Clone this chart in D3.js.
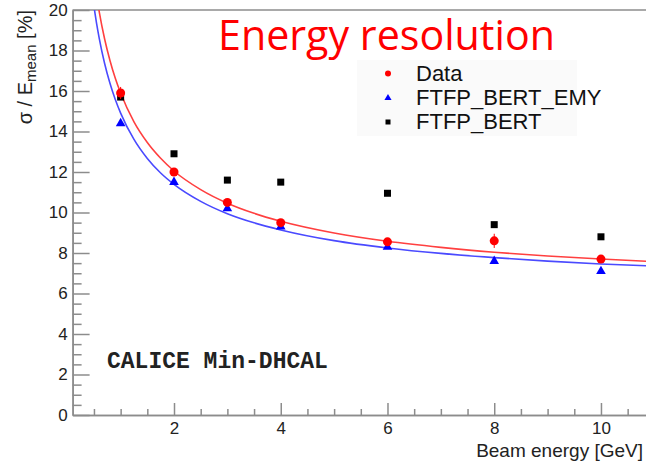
<!DOCTYPE html>
<html lang="en">
<head>
  <meta charset="UTF-8">
  <title>Energy resolution</title>
  <script src="https://cdn.jsdelivr.net/npm/d3@7"></script>
  <style>
    body {
      margin: 0;
      background: #fff;
      overflow: hidden;
    }

    #canvas {
      width: 646px;
      height: 467px;
      font-family: "Liberation Sans", Arial, sans-serif;
    }

    .axis path, .axis line {
      stroke: #8c8c8c;
      stroke-width: 1.5;
    }

    .axis text {
      font-family: "Liberation Sans", Arial, sans-serif;
      font-size: 17px;
      fill: #222;
    }
  </style>
</head>
<body>
<svg id="canvas" width="646" height="467"></svg>
<script>
  // beam energies [GeV]
  let energies = [1, 2, 3, 4, 6, 8, 10];
  // sigma / E_mean [%]
  let dataValues = [15.9, 12.0, 10.5, 9.5, 8.55, 8.6, 7.7];
  let dataErrors = [0.3, 0.15, 0.1, 0.1, 0.1, 0.35, 0.1];
  let emyValues = [14.4, 11.5, 10.2, 9.3, 8.3, 7.6, 7.1];
  let bertValues = [15.7, 12.9, 11.6, 11.5, 10.95, 9.4, 8.8];

  // fit curves
  let fitEnergies = [0.5, 0.55, 0.6, 0.7, 0.8, 0.9, 1, 1.25, 1.5, 1.75, 2, 2.5, 3, 3.5, 4, 5, 6, 7, 8, 9, 10, 11];
  let dataFit = [21.6, 20.7, 19.9, 18.57, 17.51, 16.63, 15.9, 14.48, 13.46, 12.68, 12.05, 11.13, 10.46, 9.96, 9.57, 8.99, 8.58, 8.28, 8.04, 7.85, 7.7, 7.57];
  let emyFit = [20.18, 19.33, 18.59, 17.36, 16.38, 15.58, 14.91, 13.61, 12.67, 11.95, 11.39, 10.55, 9.94, 9.49, 9.14, 8.61, 8.25, 7.98, 7.77, 7.6, 7.46, 7.35];

  let xMajor = [2, 4, 6, 8, 10];
  let yMajor = [0, 2, 4, 6, 8, 10, 12, 14, 16, 18, 20];

  let legendItems = ["Data", "FTFP_BERT_EMY", "FTFP_BERT"];

  let svg = d3.select("#canvas");

  let x = d3.scaleLinear().domain([0.1, 10.9]).range([72.6, 649]);
  let y = d3.scaleLinear().domain([0, 20]).range([415, 10]);

  // top frame line
  svg.append("line")
      .attr("x1", x(0.1)).attr("x2", 646)
      .attr("y1", y(20)).attr("y2", y(20))
      .attr("stroke", "#8c8c8c").attr("stroke-width", 1.5);

  // minor ticks
  let xMinor = d3.range(0.5, 10.9, 0.5).filter(v => xMajor.indexOf(v) < 0);
  let yMinor = d3.range(0.5, 20, 0.5).filter(v => yMajor.indexOf(v) < 0);

  svg.append("g").attr("class", "axis")
      .attr("transform", `translate(0,${y(0)})`)
      .call(d3.axisBottom(x).tickValues(xMinor).tickSize(-6).tickSizeOuter(0).tickFormat(""));

  svg.append("g").attr("class", "axis")
      .attr("transform", `translate(${x(0.1)},0)`)
      .call(d3.axisLeft(y).tickValues(yMinor).tickSize(-9).tickSizeOuter(0).tickFormat(""));

  // major ticks
  svg.append("g").attr("class", "axis")
      .attr("transform", `translate(0,${y(0)})`)
      .call(d3.axisBottom(x).tickValues(xMajor).tickSize(-12).tickSizeOuter(0).tickPadding(7))
      .selectAll("text").attr("dy", "0.71em").attr("y", 7);

  svg.append("g").attr("class", "axis")
      .attr("transform", `translate(${x(0.1)},0)`)
      .call(d3.axisLeft(y).tickValues(yMajor).tickSize(-17).tickSizeOuter(0).tickPadding(5));

  // axis titles
  svg.append("text")
      .attr("x", 643).attr("y", 457)
      .attr("text-anchor", "end")
      .attr("font-size", 19)
      .attr("fill", "#222")
      .text("Beam energy [GeV]");

  let yTitle = svg.append("text")
      .attr("transform", "translate(32,10) rotate(-90)")
      .attr("text-anchor", "end")
      .attr("font-size", 20)
      .attr("fill", "#222");
  yTitle.append("tspan").text("σ / E");
  yTitle.append("tspan").attr("font-size", 15).attr("dy", 4).text("mean");
  yTitle.append("tspan").attr("dy", -4).text(" [%]");

  // fit curves
  svg.append("clipPath").attr("id", "plotClip")
      .append("rect")
      .attr("x", x(0.1)).attr("y", y(20))
      .attr("width", 646 - x(0.1)).attr("height", y(0) - y(20));

  let line = d3.line().x(d => x(d[0])).y(d => y(d[1])).curve(d3.curveMonotoneX);

  svg.append("path")
      .datum(fitEnergies.map((e, i) => [e, emyFit[i]]))
      .attr("d", line)
      .attr("clip-path", "url(#plotClip)")
      .attr("fill", "none")
      .attr("stroke", "#4a4aff")
      .attr("stroke-width", 1.6);

  svg.append("path")
      .datum(fitEnergies.map((e, i) => [e, dataFit[i]]))
      .attr("d", line)
      .attr("clip-path", "url(#plotClip)")
      .attr("fill", "none")
      .attr("stroke", "#ff4040")
      .attr("stroke-width", 1.6);

  // FTFP_BERT squares
  svg.append("g").selectAll("rect")
      .data(energies)
      .join("rect")
      .attr("x", (d, i) => x(d) - 3.5)
      .attr("y", (d, i) => y(bertValues[i]) - 3.5)
      .attr("width", 7).attr("height", 7)
      .attr("fill", "#000");

  // FTFP_BERT_EMY triangles
  let tri = d3.symbol().type(d3.symbolTriangle).size(40);
  svg.append("g").selectAll("path")
      .data(energies)
      .join("path")
      .attr("d", tri)
      .attr("transform", (d, i) => `translate(${x(d)},${y(emyValues[i])})`)
      .attr("fill", "#0000ff");

  // Data points with error bars
  svg.append("g").selectAll("line")
      .data(energies)
      .join("line")
      .attr("x1", d => x(d)).attr("x2", d => x(d))
      .attr("y1", (d, i) => y(dataValues[i] - dataErrors[i]))
      .attr("y2", (d, i) => y(dataValues[i] + dataErrors[i]))
      .attr("stroke", "#ff0000").attr("stroke-width", 1);

  svg.append("g").selectAll("circle")
      .data(energies)
      .join("circle")
      .attr("cx", d => x(d))
      .attr("cy", (d, i) => y(dataValues[i]))
      .attr("r", 4.5)
      .attr("fill", "#ff0000");

  // legend
  let legend = svg.append("g");
  legend.append("rect")
      .attr("x", 357).attr("y", 60)
      .attr("width", 220).attr("height", 76)
      .attr("fill", "#fafafa");

  let rowY = [81, 105, 129];
  legend.selectAll("text")
      .data(legendItems)
      .join("text")
      .attr("x", 416)
      .attr("y", (d, i) => rowY[i])
      .attr("font-size", 22)
      .attr("fill", "#111")
      .text(d => d);

  legend.append("circle")
      .attr("cx", 388).attr("cy", rowY[0] - 7.5).attr("r", 3)
      .attr("fill", "#ff0000");
  legend.append("path")
      .attr("d", d3.symbol().type(d3.symbolTriangle).size(22))
      .attr("transform", `translate(388,${rowY[1] - 7})`)
      .attr("fill", "#0000ff");
  legend.append("rect")
      .attr("x", 385.5).attr("y", rowY[2] - 9.5)
      .attr("width", 5).attr("height", 5)
      .attr("fill", "#000");

  // labels
  svg.append("text")
      .attr("x", 218).attr("y", 50)
      .attr("font-family", "'Open Sans', sans-serif")
      .attr("font-size", 42)
      .attr("fill", "#ff0000")
      .attr("textLength", 337)
      .attr("lengthAdjust", "spacingAndGlyphs")
      .text("Energy resolution");

  svg.append("text")
      .attr("x", 107).attr("y", 368)
      .attr("font-family", "'Liberation Mono', monospace")
      .attr("font-weight", "bold")
      .attr("font-size", 23)
      .attr("fill", "#222")
      .text("CALICE Min-DHCAL");
</script>
</body>
</html>
